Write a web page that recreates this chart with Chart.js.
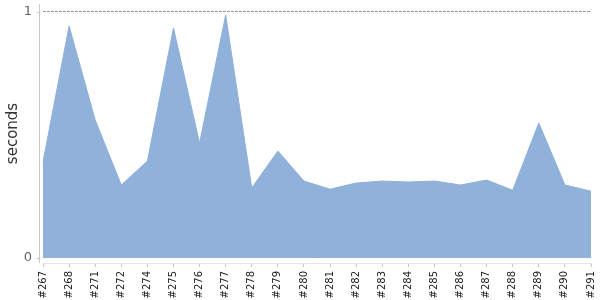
<!DOCTYPE html>
<html>
<head>
<meta charset="utf-8">
<script src="https://cdn.jsdelivr.net/npm/chart.js@4"></script>
<style>
    html, body { margin: 0; padding: 0; background: #fff; }
    #wrap { width: 600px; height: 300px; }
</style>
</head>
<body>
<div id="wrap"><canvas id="buildChart"></canvas></div>
<script>
const builds = ['#267', '#268', '#271', '#272', '#274', '#275', '#276', '#277', '#278', '#279', '#280',
    '#281', '#282', '#283', '#284', '#285', '#286', '#287', '#288', '#289', '#290', '#291'];
const seconds = [0.39, 0.943, 0.561, 0.297, 0.394, 0.935, 0.467, 0.988, 0.285, 0.435, 0.313,
    0.28, 0.305, 0.313, 0.309, 0.313, 0.297, 0.317, 0.276, 0.549, 0.297, 0.272];
const yTicks = [0, 1];

// eje vertical un poco a la izquierda del área, como en el original
const axisLine = {
    id: 'axisLine',
    afterDraw(chart) {
        const { ctx, chartArea } = chart;
        const y = chart.scales.y;
        const x0 = chartArea.left - 3.5;
        ctx.save();
        ctx.strokeStyle = '#c8c8c8';
        ctx.lineWidth = 1;
        ctx.beginPath();
        ctx.moveTo(x0, chartArea.top);
        ctx.lineTo(x0, chartArea.bottom);
        yTicks.forEach(v => {
            const py = Math.round(y.getPixelForValue(v)) + 0.5;
            ctx.moveTo(x0 - 3, py);
            ctx.lineTo(x0, py);
        });
        ctx.stroke();
        ctx.restore();
    }
};

new Chart(document.getElementById('buildChart').getContext('2d'), {
    type: 'line',
    data: {
        labels: builds,
        datasets: [{
            data: seconds,
            fill: 'origin',
            backgroundColor: 'rgb(143, 177, 218)',
            borderColor: 'rgb(143, 177, 218)',
            borderWidth: 1,
            pointRadius: 0,
            tension: 0
        }]
    },
    options: {
        responsive: true,
        maintainAspectRatio: false,
        animation: false,
        layout: { padding: { top: 4, right: 9, left: 0, bottom: 0 } },
        plugins: {
            legend: { display: false },
            tooltip: { enabled: false }
        },
        scales: {
            x: {
                offset: false,
                afterFit: s => { s.paddingRight = 0; s.paddingLeft = 0; s.height = 37; },
                grid: {
                    drawOnChartArea: false,
                    color: '#c8c8c8',
                    tickLength: 4
                },
                border: { display: true, color: '#e4e4e4' },
                ticks: {
                    autoSkip: false,
                    minRotation: 90,
                    maxRotation: 90,
                    padding: 4,
                    color: '#222',
                    font: { family: 'DejaVu Sans', size: 10 }
                }
            },
            y: {
                min: -0.02,
                max: 1.0325,
                afterBuildTicks: axis => { axis.ticks = yTicks.map(v => ({ value: v })); },
                afterFit: s => { s.paddingTop = 0; s.paddingBottom = 0; s.width = 43; },
                grid: {
                    drawTicks: false,
                    lineWidth: 1,
                    color: ctx => ctx.tick && ctx.tick.value === 1 ? '#999' : 'rgba(0,0,0,0)'
                },
                border: { display: false, dash: [3, 1] },
                ticks: {
                    padding: 11,
                    color: '#666',
                    font: { family: 'DejaVu Sans', size: 13 }
                },
                title: {
                    display: true,
                    text: 'seconds',
                    color: '#333',
                    padding: { top: 4, bottom: 0 },
                    font: { family: 'DejaVu Sans', size: 15 }
                }
            }
        }
    },
    plugins: [axisLine]
});
</script>
</body>
</html>
